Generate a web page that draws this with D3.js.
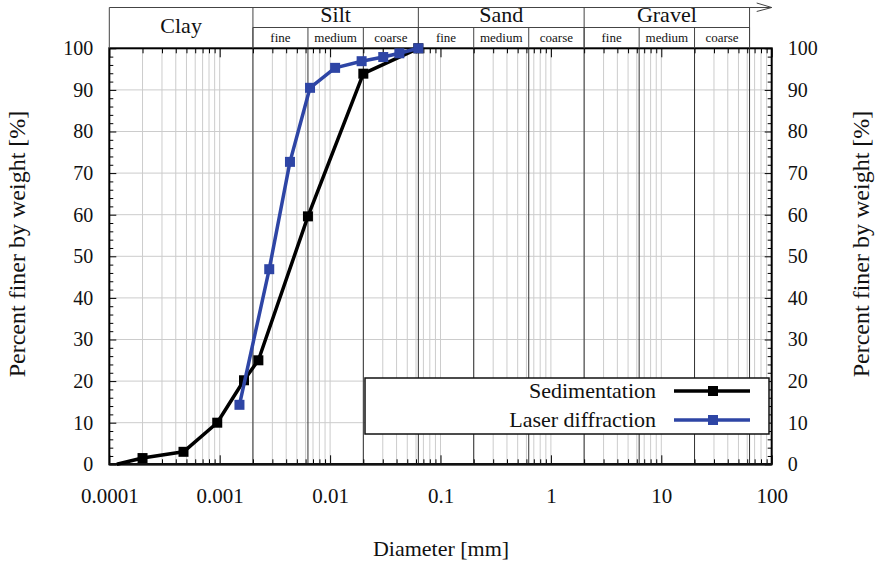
<!DOCTYPE html>
<html><head><meta charset="utf-8">
<script src="https://cdn.jsdelivr.net/npm/d3@7"></script>
<style>body{margin:0;background:#fff}svg{display:block}svg text{font-family:"Liberation Serif",Tinos,"Times New Roman",Times,serif !important;fill:#111}</style>
</head><body>
<svg id="c" width="879" height="564"></svg>
<script>
// ---- data ----
const sedDiam  = [0.000117, 0.0002, 0.00047, 0.00095, 0.00166, 0.00224, 0.0063, 0.02, 0.063];
const sedPct   = [0, 1.5, 3, 10, 20.2, 25, 59.6, 93.9, 100];
const laserDiam = [0.00151, 0.00281, 0.00433, 0.00658, 0.0111, 0.0193, 0.0303, 0.0424, 0.063];
const laserPct  = [14.3, 46.9, 72.7, 90.5, 95.3, 96.9, 97.9, 98.8, 100];
const seriesNames = ["Sedimentation", "Laser diffraction"];
const xTickLabels = ["0.0001","0.001","0.01","0.1","1","10","100"];
const yTickValues = [0,10,20,30,40,50,60,70,80,90,100];
const soilClasses = ["Clay","Silt","Sand","Gravel"];
const classBounds = [0.0001, 0.002, 0.063, 2, 63];
const subClasses = ["fine","medium","coarse"];
const subBounds = [0.002, 0.0063, 0.02, 0.063, 0.2, 0.63, 2, 6.3, 20, 63];
const xTitle = "Diameter [mm]";
const yTitle = "Percent finer by weight [%]";

// ---- layout ----
const FONT = "Liberation Serif, Tinos, Times New Roman, serif";
const L = 109.3, R = 771.7, T = 48.3, B = 464.3, HT = 7.5, HM = 27.5;
const svg = d3.select("#c");
const x = d3.scaleLog().domain([1e-4, 100]).range([L, R]);
const y = d3.scaleLinear().domain([0, 100]).range([B, T]);
const colors = ["#000000", "#2e45a5"];

const decades = xTickLabels.map(Number);
const minorX = [];
decades.slice(0, -1).forEach(d => { for (let k = 1; k <= 9; k++) minorX.push(d * k); });
minorX.push(100);

// grid
const g = svg.append("g");
g.selectAll("line.vg").data(minorX.filter(v => v > 1e-4 && v < 100)).join("line")
  .attr("x1", d => x(d)).attr("x2", d => x(d)).attr("y1", T).attr("y2", B)
  .attr("stroke", "#cccccc").attr("stroke-width", 1);
g.selectAll("line.hg").data(yTickValues.filter(v => v > 0 && v < 100)).join("line")
  .attr("x1", L).attr("x2", R).attr("y1", d => y(d)).attr("y2", d => y(d))
  .attr("stroke", "#cccccc").attr("stroke-width", 1);
// boundaries
g.selectAll("line.bd").data(subBounds).join("line")
  .attr("x1", d => x(d)).attr("x2", d => x(d)).attr("y1", T).attr("y2", B)
  .attr("stroke", "#333").attr("stroke-width", 1);

// axes: minor ticks
const minorTickX = minorX.filter(v => !decades.includes(v));
svg.append("g").attr("transform", `translate(0,${B})`)
  .call(d3.axisBottom(x).tickValues(minorTickX).tickSize(-5).tickFormat(""))
  .call(a => a.select(".domain").remove());
svg.append("g").attr("transform", `translate(0,${T})`)
  .call(d3.axisTop(x).tickValues(minorTickX).tickSize(-5).tickFormat(""))
  .call(a => a.select(".domain").remove());
svg.append("g").attr("transform", `translate(0,${B})`)
  .call(d3.axisBottom(x).tickValues(decades).tickSize(-9).tickPadding(24).tickFormat((d, i) => xTickLabels[i]))
  .call(a => { a.attr("font-family", FONT); a.select(".domain").remove(); a.selectAll("text").attr("font-size", 21).attr("font-family", FONT).attr("fill", "#111"); });
svg.append("g").attr("transform", `translate(0,${T})`)
  .call(d3.axisTop(x).tickValues(decades).tickSize(-9).tickFormat(""))
  .call(a => a.select(".domain").remove());

const minorY = d3.range(0, 101, 2).filter(v => v % 10 !== 0);
[["L", d3.axisLeft, L], ["R", d3.axisRight, R]].forEach(([s, ax, pos]) => {
  svg.append("g").attr("transform", `translate(${pos},0)`)
    .call(ax(y).tickValues(minorY).tickSize(-4).tickFormat(""))
    .call(a => a.select(".domain").remove());
  svg.append("g").attr("transform", `translate(${pos},0)`)
    .call(ax(y).tickValues(yTickValues).tickSize(-7).tickPadding(16).tickFormat(d3.format("d")))
    .call(a => { a.attr("font-family", FONT); a.select(".domain").remove(); a.selectAll("text").attr("font-size", 20).attr("font-family", FONT).attr("fill", "#111"); });
});

// frame
svg.append("rect").attr("x", L).attr("y", T).attr("width", R - L).attr("height", B - T)
  .attr("fill", "none").attr("stroke", "#000").attr("stroke-width", 2);
svg.append("line").attr("x1", L).attr("x2", R).attr("y1", B).attr("y2", B).attr("stroke", "#111").attr("stroke-width", 2.5);

// header
const h = svg.append("g").attr("stroke", "#444").attr("stroke-width", 1).attr("fill", "none");
h.append("line").attr("x1", L).attr("x2", R).attr("y1", HT).attr("y2", HT);
h.append("polyline").attr("points", `${R - 15},3 ${R},7.5 ${R - 15},11.5`);
h.append("line").attr("x1", L).attr("x2", L).attr("y1", HT).attr("y2", T);
h.append("line").attr("x1", x(subBounds[0])).attr("x2", x(subBounds[subBounds.length - 1])).attr("y1", HM).attr("y2", HM);
classBounds.slice(1).forEach(b => h.append("line").attr("x1", x(b)).attr("x2", x(b)).attr("y1", HT).attr("y2", T));
subBounds.forEach(b => h.append("line").attr("x1", x(b)).attr("x2", x(b)).attr("y1", HM).attr("y2", T));

soilClasses.forEach((c, i) => {
  const cx = (x(classBounds[i]) + x(classBounds[i + 1])) / 2;
  svg.append("text").attr("x", cx).attr("y", i === 0 ? 33 : 22).attr("text-anchor", "middle")
    .attr("font-family", FONT).attr("font-size", 22).text(c);
});
for (let i = 0; i < subBounds.length - 1; i++) {
  const cx = (x(subBounds[i]) + x(subBounds[i + 1])) / 2;
  svg.append("text").attr("x", cx).attr("y", 42).attr("text-anchor", "middle")
    .attr("font-family", FONT).attr("font-size", 13).text(subClasses[i % 3]);
}

// series
const series = [
  { name: seriesNames[0], pts: sedDiam.map((d, i) => [d, sedPct[i]]), color: colors[0] },
  { name: seriesNames[1], pts: laserDiam.map((d, i) => [d, laserPct[i]]), color: colors[1] }
];
const line = d3.line().x(d => x(d[0])).y(d => y(d[1]));
const ms = 10;
series.forEach(s => {
  svg.append("path").attr("d", line(s.pts)).attr("fill", "none").attr("stroke", s.color)
    .attr("stroke-width", 3.5).attr("stroke-linejoin", "round");
  svg.selectAll(null).data(s.pts.filter(p => p[1] > 0)).join("rect")
    .attr("x", d => x(d[0]) - ms / 2).attr("y", d => y(d[1]) - ms / 2)
    .attr("width", ms).attr("height", ms).attr("fill", s.color);
});

// legend
const lg = svg.append("g");
lg.append("rect").attr("x", 365).attr("y", 378).attr("width", 404).attr("height", 56)
  .attr("fill", "#fff").attr("stroke", "#111").attr("stroke-width", 1.5);
series.forEach((s, i) => {
  const ly = 391 + i * 29;
  lg.append("text").attr("x", 656).attr("y", ly + 7).attr("text-anchor", "end")
    .attr("font-family", FONT).attr("font-size", 22).text(s.name);
  lg.append("line").attr("x1", 674).attr("x2", 750).attr("y1", ly).attr("y2", ly).attr("stroke", s.color).attr("stroke-width", 3.5);
  lg.append("rect").attr("x", 713 - ms / 2).attr("y", ly - ms / 2).attr("width", ms).attr("height", ms).attr("fill", s.color);
});

// titles
svg.append("text").attr("x", 441).attr("y", 556).attr("text-anchor", "middle").attr("font-family", FONT).attr("font-size", 22).text(xTitle);
svg.append("text").attr("transform", "translate(25,244) rotate(-90)").attr("text-anchor", "middle").attr("font-family", FONT).attr("font-size", 24).text(yTitle);
svg.append("text").attr("transform", "translate(869,244) rotate(-90)").attr("text-anchor", "middle").attr("font-family", FONT).attr("font-size", 24).text(yTitle);
</script>
</body></html>
